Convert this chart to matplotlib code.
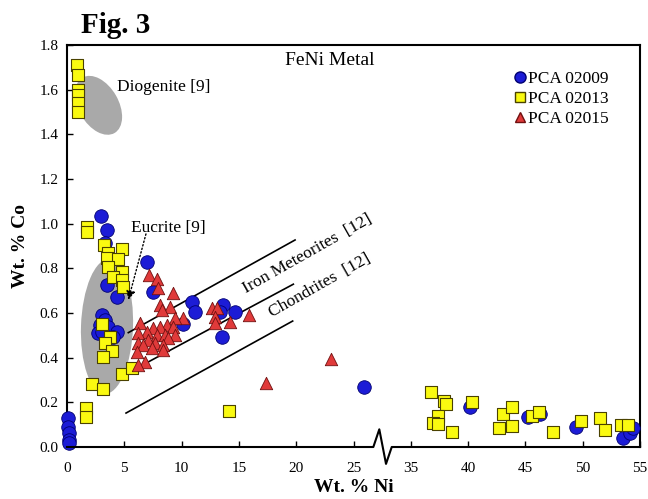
import numpy as np
import matplotlib
matplotlib.use('Agg')
import matplotlib.pyplot as plt
from matplotlib.patches import Ellipse
from matplotlib.lines import Line2D
import matplotlib.transforms as mtrans

plt.rcParams['font.family'] = ['Liberation Serif', 'DejaVu Serif']

# PCA 02009 (blue circles)
ni_09 = [0.1, 0.1, 0.15, 0.15, 0.2,
         2.97, 3.46, 3.32, 3.46, 4.34,
         3.03, 3.32, 2.88, 3.6, 2.73, 4.34, 4.04, 3.46, 3.03,
         6.95, 7.48, 10.93, 11.17, 10.15, 13.64, 14.66, 13.35, 13.5,
         25.9,
         40.17, 45.2, 46.27, 49.42, 53.5, 54.1, 54.36]
co_09 = [0.128, 0.091, 0.063, 0.031, 0.016,
         1.034, 0.972, 0.914, 0.725, 0.672,
         0.591, 0.569, 0.546, 0.539, 0.51, 0.516, 0.494, 0.494, 0.516,
         0.83, 0.696, 0.648, 0.603, 0.549, 0.636, 0.606, 0.606, 0.491,
         0.267,
         0.18, 0.133, 0.148, 0.091, 0.039, 0.061, 0.084]

# PCA 02013 (yellow squares)
ni_13 = [0.9, 0.95, 1.0, 0.95, 0.95, 1.0,
         1.72, 1.72,
         3.25, 3.6, 4.77, 3.46, 4.48, 3.6, 4.77, 4.04, 4.77, 4.91,
         3.03, 3.75, 3.32, 3.96, 3.11, 4.77, 5.7, 2.21, 3.11, 1.66, 1.63,
         14.1,
         36.73, 37.93, 38.05, 37.4, 36.97, 37.4, 38.57, 40.31, 43.02, 43.8,
         42.7, 43.86, 45.58, 46.2, 47.38, 49.88, 51.5, 51.95, 53.3, 53.98]
co_13 = [1.71, 1.665, 1.60, 1.575, 1.54, 1.50,
         0.985, 0.962,
         0.905, 0.869, 0.885, 0.846, 0.842, 0.807, 0.785, 0.763, 0.748, 0.715,
         0.551, 0.494, 0.464, 0.431, 0.402, 0.327, 0.352, 0.282, 0.258, 0.173, 0.133,
         0.161,
         0.248, 0.208, 0.191, 0.139, 0.106, 0.103, 0.069, 0.203, 0.148, 0.178,
         0.084, 0.095, 0.139, 0.158, 0.069, 0.116, 0.131, 0.076, 0.099, 0.099]

# PCA 02015 (red triangles)
ni_15 = [7.16, 7.83, 7.97, 9.28, 8.12, 8.99, 8.26, 10.15, 9.42, 6.37,
         8.70, 8.12, 7.53, 9.28, 6.95, 6.22, 7.83, 8.55, 9.42, 7.09,
         8.84, 6.22, 6.66, 7.68, 8.40, 7.39, 6.08, 8.40, 6.81, 6.22,
         12.63, 13.10, 12.91, 12.91, 14.22, 15.84, 23.01, 17.36]
co_15 = [0.770, 0.752, 0.711, 0.688, 0.636, 0.628, 0.614, 0.576, 0.576, 0.554,
         0.546, 0.539, 0.532, 0.539, 0.516, 0.509, 0.502, 0.502, 0.502, 0.479,
         0.487, 0.464, 0.457, 0.464, 0.457, 0.442, 0.427, 0.434, 0.382, 0.367,
         0.621, 0.621, 0.584, 0.554, 0.561, 0.589, 0.393, 0.285]

# reference trend lines (Ni start, Co start, Ni end, Co end)
iron_line = [5.35, 0.512, 19.9, 0.927]
mid_line = [5.24, 0.33, 19.75, 0.729]
chond_line = [5.15, 0.152, 19.69, 0.564]

x_ticks = [0, 5, 10, 15, 20, 25, 35, 40, 45, 50, 55]
y_ticks = [0.0, 0.2, 0.4, 0.6, 0.8, 1.0, 1.2, 1.4, 1.6, 1.8]


# broken x axis: 27..33 squeezed into one unit
def fwd(x):
    x = np.asarray(x, dtype=float)
    return np.where(x <= 27, x, np.where(x >= 33, x - 5, 27 + (x - 27) / 6.0))


def inv(y):
    y = np.asarray(y, dtype=float)
    return np.where(y <= 27, y, np.where(y >= 28, y + 5, 27 + (y - 27) * 6.0))


fig = plt.figure(figsize=(6.48, 4.99), dpi=100)
ax = fig.add_axes([0.1034, 0.1042, 0.8843, 0.8056])
ax.set_xscale('function', functions=(fwd, inv))
ax.set_xlim(0, 55)
ax.set_ylim(0, 1.8)

# grey fields
px = fig.dpi_scale_trans
ax.add_patch(Ellipse((0, 0), 0.64, 0.40, angle=-60, facecolor='#a9a9a9', edgecolor='none',
                     transform=px + mtrans.ScaledTranslation(2.75, 1.53, ax.transData), zorder=1))
ax.add_patch(Ellipse((0, 0), 0.52, 1.35, angle=-2, facecolor='#a9a9a9', edgecolor='none',
                     transform=px + mtrans.ScaledTranslation(3.49, 0.54, ax.transData), zorder=1))

for ln in (iron_line, mid_line, chond_line):
    ax.plot([ln[0], ln[2]], [ln[1], ln[3]], color='black', lw=1.2, zorder=2)

ax.scatter(ni_09, co_09, s=95, marker='o', facecolor='#1c1cd6', edgecolor='#000070',
           linewidth=0.6, zorder=3, clip_on=False)
ax.scatter(ni_13, co_13, s=64, marker='s', facecolor='#fafa10', edgecolor='#4a4200',
           linewidth=0.8, zorder=4, clip_on=False)
ax.scatter(ni_15, co_15, s=80, marker='^', facecolor='#e03a3a', edgecolor='#701010',
           linewidth=0.6, zorder=5, clip_on=False)

ax.annotate('', xy=(5.35, 0.659), xytext=(6.89, 0.954),
            arrowprops=dict(arrowstyle='-|>', linestyle=':', color='black', lw=1.0,
                            mutation_scale=13, shrinkA=0, shrinkB=0), zorder=6)

ax.text(4.36, 1.61, 'Diogenite [9]', fontsize=12.5, va='center', ha='left')
ax.text(5.58, 0.98, 'Eucrite [9]', fontsize=12.5, va='center', ha='left')
ax.text(22.9, 1.73, 'FeNi Metal', fontsize=14, va='center', ha='center')
ax.text(20.98, 0.864, 'Iron Meteorites  [12]', fontsize=12.5, rotation=29.5,
        rotation_mode='anchor', ha='center', va='center')
ax.text(22.08, 0.721, 'Chondrites  [12]', fontsize=12.5, rotation=29.5,
        rotation_mode='anchor', ha='center', va='center')

handles = [Line2D([], [], ls='none', marker='o', ms=8, mfc='#1c1cd6', mec='#000070'),
           Line2D([], [], ls='none', marker='s', ms=7, mfc='#fafa10', mec='#4a4200'),
           Line2D([], [], ls='none', marker='^', ms=7.5, mfc='#e03a3a', mec='#701010')]
ax.legend(handles, ['PCA 02009', 'PCA 02013', 'PCA 02015'], loc='upper right',
          bbox_to_anchor=(0.946, 0.935), frameon=False, fontsize=12.5, handlelength=0.7,
          handletextpad=0.15, labelspacing=0.22, borderpad=0, borderaxespad=0)

ax.set_xticks(x_ticks)
ax.set_xticklabels([str(t) for t in x_ticks])
ax.set_yticks(y_ticks)
ax.set_yticklabels(['%.1f' % t for t in y_ticks])
ax.tick_params(direction='in', length=4, width=1, labelsize=11, pad=6)
ax.tick_params(axis='x', pad=11)
ax.minorticks_off()

for s in ax.spines.values():
    s.set_linewidth(1.5)
ax.spines['bottom'].set_visible(False)

# bottom spine with break mark
bx = [0, 0.5346, 0.5450, 0.5567, 0.5667, 1]
by = [0, 0, 0.044, -0.042, 0, 0]
ax.plot(bx, by, transform=ax.transAxes, color='black', lw=1.5, clip_on=False, zorder=7)

ax.set_xlabel('Wt. % Ni', fontsize=14, fontweight='bold', labelpad=3)
ax.set_ylabel('Wt. % Co', fontsize=14, fontweight='bold', labelpad=8)
fig.text(0.178, 0.934, 'Fig. 3', fontsize=21, fontweight='bold', ha='center', va='baseline')

plt.savefig('out.png', dpi=100)
